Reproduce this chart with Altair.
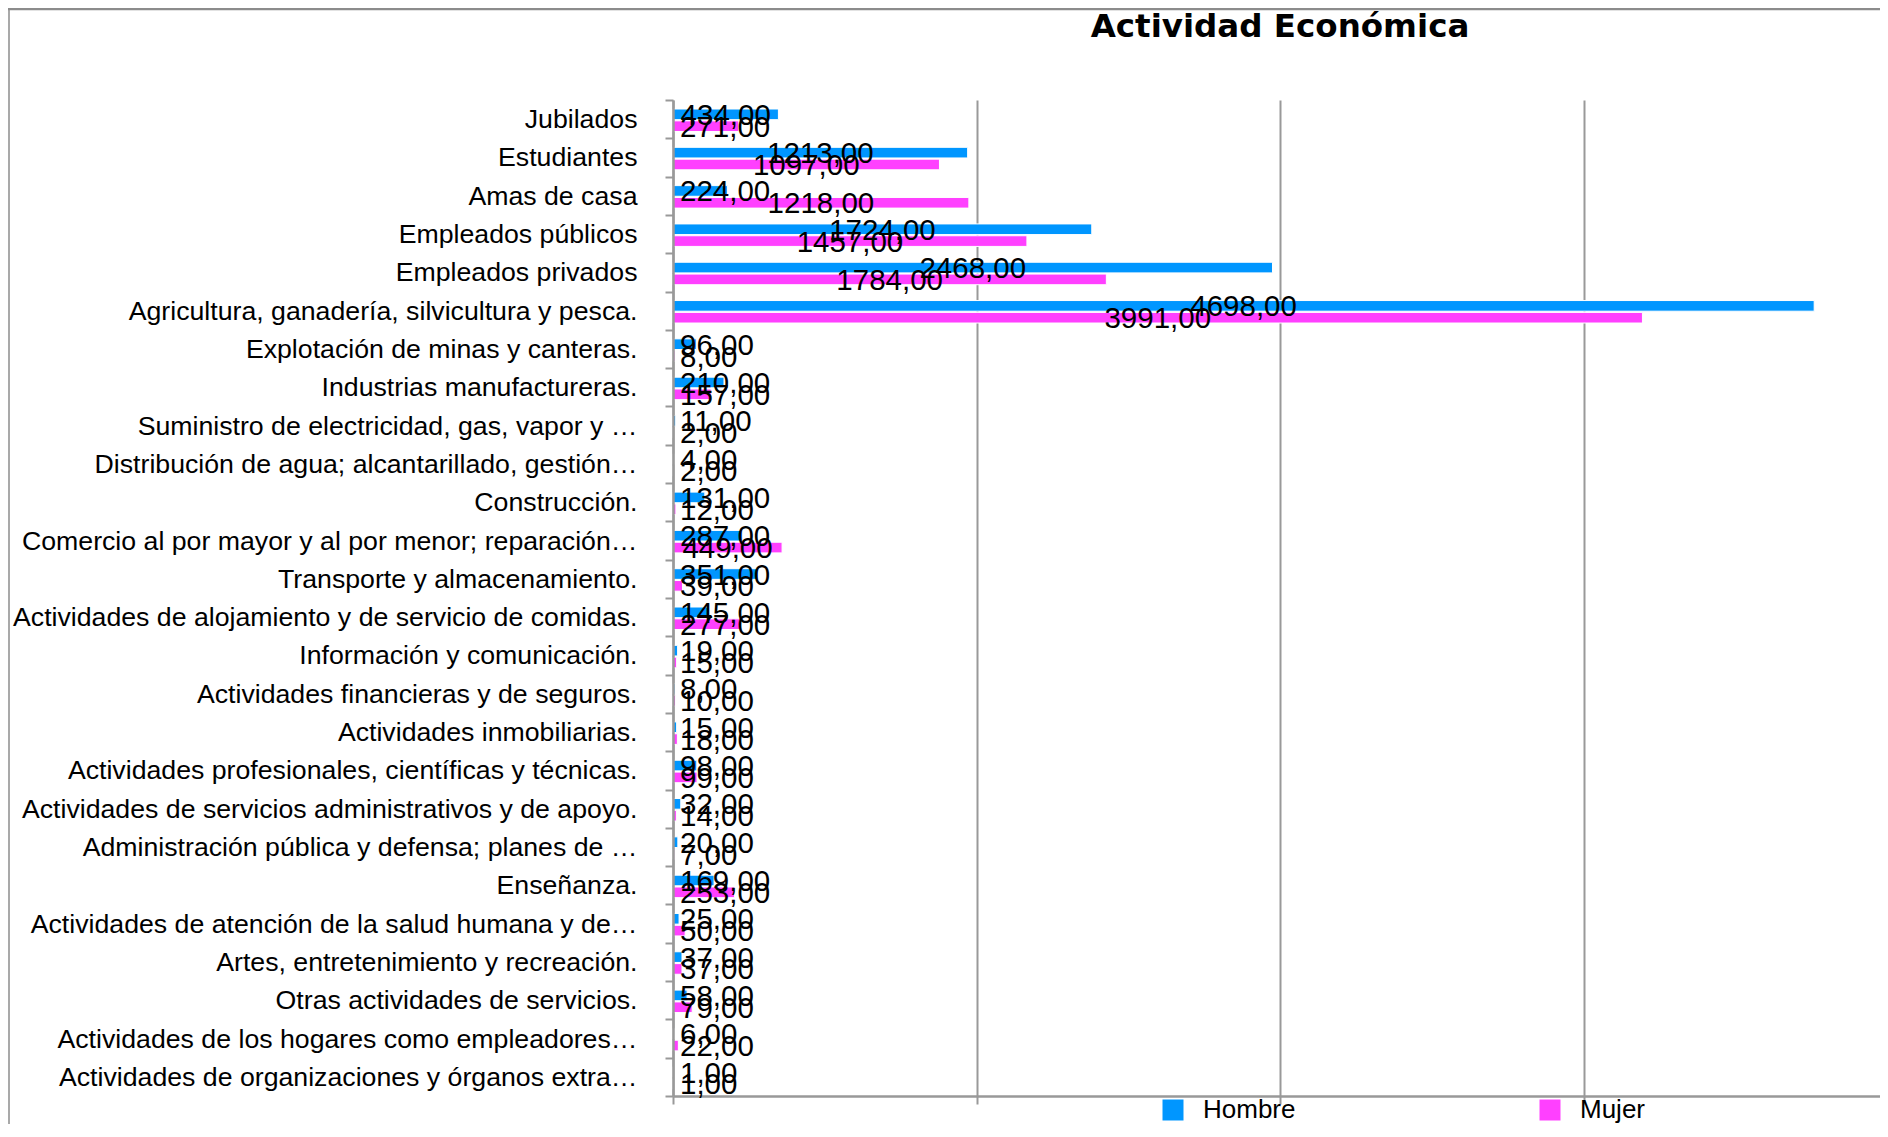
import altair as alt
import pandas as pd

titulo = "Actividad Económica"
categorias = [
    "Jubilados",
    "Estudiantes",
    "Amas de casa",
    "Empleados públicos",
    "Empleados privados",
    "Agricultura, ganadería,  silvicultura y pesca.",
    "Explotación de minas y canteras.",
    "Industrias manufactureras.",
    "Suministro de electricidad, gas, vapor y …",
    "Distribución de agua; alcantarillado, gestión…",
    "Construcción.",
    "Comercio al por mayor y al por menor; reparación…",
    "Transporte y almacenamiento.",
    "Actividades de alojamiento y de servicio de comidas.",
    "Información y comunicación.",
    "Actividades financieras y de seguros.",
    "Actividades inmobiliarias.",
    "Actividades profesionales, científicas y técnicas.",
    "Actividades de servicios administrativos y de apoyo.",
    "Administración pública y defensa; planes de …",
    "Enseñanza.",
    "Actividades de atención de la salud humana y de…",
    "Artes, entretenimiento y recreación.",
    "Otras actividades de servicios.",
    "Actividades de los hogares como empleadores…",
    "Actividades de organizaciones y órganos extra…",
]
hombre = [434, 1213, 224, 1724, 2468, 4698, 96, 210, 11, 4, 131, 287, 351, 145,
          19, 8, 15, 98, 32, 20, 169, 25, 37, 58, 6, 1]
mujer = [271, 1097, 1218, 1457, 1784, 3991, 8, 157, 2, 2, 12, 449, 39, 277,
         15, 10, 18, 99, 14, 7, 253, 50, 37, 79, 22, 1]
series = ["Hombre", "Mujer"]
colores = ["#0096ff", "#ff40ff"]
x_ticks = [0, 1250, 2500, 3750]

rows = []
for c, h, m in zip(categorias, hombre, mujer):
    rows.append({"cat": c, "serie": series[0], "v": h})
    rows.append({"cat": c, "serie": series[1], "v": m})
df = pd.DataFrame(rows)

FONT = "Liberation Sans"
PAD_L, PAD_T = 665, 92
W, H = 1207, 996
SVG_H = 1116
GRAY = "#999999"

xscale = alt.Scale(domain=[0, 4969], nice=False, zero=True)

yenc = alt.Y(
    "cat:N", sort=categorias, title=None,
    scale=alt.Scale(paddingInner=0, paddingOuter=0),
    axis=alt.Axis(labelFontSize=26.7, labelFont=FONT, labelColor="black", labelLimit=900,
                  labelPadding=28, labelOffset=0.5, tickBand="extent", tickSize=8,
                  tickColor=GRAY, tickWidth=2, domainColor=GRAY, domainWidth=2.5,
                  zindex=1, grid=False),
)
yoff = alt.YOffset("serie:N", sort=series,
                   scale=alt.Scale(range=[2.5, 38.0], paddingInner=0.1, paddingOuter=0.55))

bars = alt.Chart(df).mark_bar(stroke="white", strokeWidth=1).encode(
    y=yenc,
    yOffset=yoff,
    x=alt.X("v:Q", scale=xscale, title=None,
            axis=alt.Axis(values=x_ticks, labels=False, tickSize=8, tickColor=GRAY, tickWidth=2,
                          domainColor=GRAY, domainWidth=2.5, gridColor=GRAY, gridWidth=2)),
    color=alt.Color("serie:N", scale=alt.Scale(domain=series, range=colores),
                    legend=alt.Legend(title=None, orient="none", legendX=487, legendY=997,
                                      direction="horizontal", symbolType="square", symbolSize=441,
                                      labelFontSize=26, labelFont=FONT, labelColor="black",
                                      labelOffset=17, columnPadding=241, symbolStrokeWidth=0,
                                      padding=0)),
)

txt_base = alt.Chart(df).transform_calculate(
    lab="replace(format(datum.v, '.2f'), '.', ',')",
    half="datum.v / 2",
    zero="0",
)

centrado = txt_base.transform_filter("datum.v >= 400").mark_text(
    align="center", baseline="middle", fontSize=29.5, font=FONT, color="black", dy=1.5
).encode(y=yenc, yOffset=yoff, x=alt.X("half:Q", scale=xscale), text="lab:N")

izquierda = txt_base.transform_filter("datum.v < 400").mark_text(
    align="left", baseline="middle", fontSize=29.5, font=FONT, color="black", dx=7, dy=1.5
).encode(y=yenc, yOffset=yoff, x=alt.X("zero:Q", scale=xscale), text="lab:N")

marco = pd.DataFrame({"a": [0]})
borde_sup = alt.Chart(marco).mark_rule(color="#8c8c8c", strokeWidth=2.5).encode(
    x=alt.value(-PAD_L), x2=alt.value(W), y=alt.value(-PAD_T + 1))
borde_izq = alt.Chart(marco).mark_rule(color="#8c8c8c", strokeWidth=1.5).encode(
    x=alt.value(-PAD_L + 1), y=alt.value(-PAD_T + 1), y2=alt.value(SVG_H - PAD_T))

titulo_txt = alt.Chart(pd.DataFrame({"t": [titulo]})).mark_text(
    font="DejaVu Sans", fontSize=32.5, fontWeight="bold", color="black",
    align="center", baseline="alphabetic"
).encode(text="t:N", x=alt.value(607), y=alt.value(29 - PAD_T))

chart = alt.layer(bars, centrado, izquierda, borde_sup, borde_izq, titulo_txt).properties(
    width=W, height=H,
    autosize=alt.AutoSizeParams(type="none"),
    padding={"left": PAD_L, "top": PAD_T, "right": 0, "bottom": SVG_H - PAD_T - H},
).configure_view(strokeWidth=0)

chart.save("out.html", embed_options={"renderer": "svg", "actions": False})
